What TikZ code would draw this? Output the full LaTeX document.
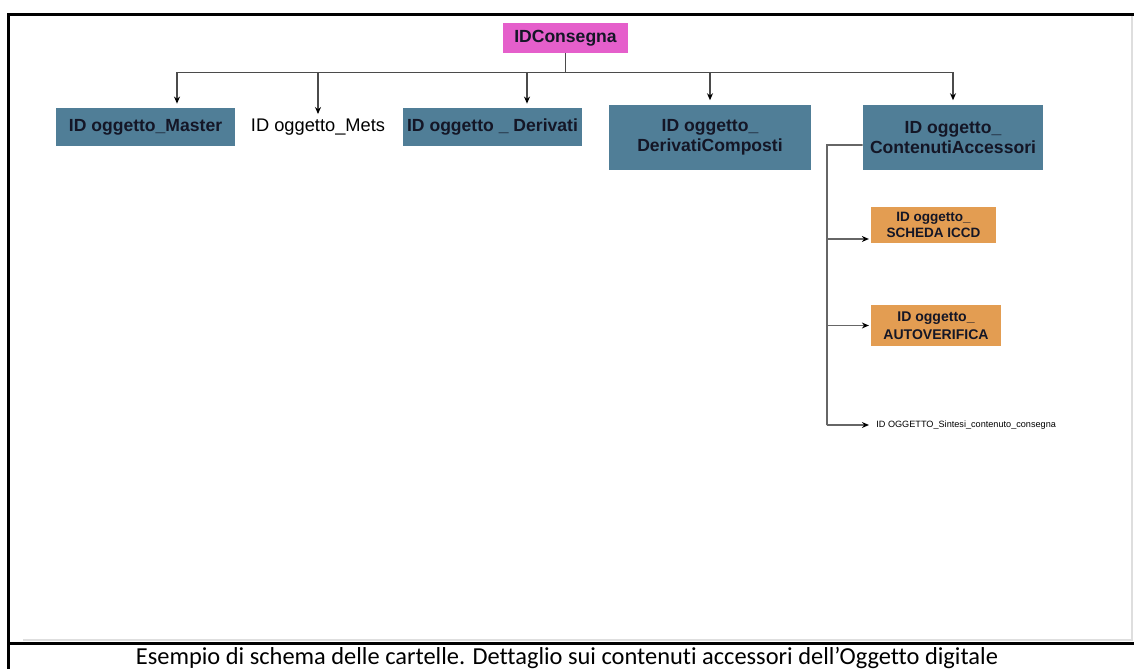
\documentclass[tikz,border=0pt]{standalone}
\usepackage{fontspec}
\setmainfont{Liberation Sans}
\newfontfamily\captionfont[Ligatures=CommonOff]{Carlito}
\usetikzlibrary{arrows.meta}

\definecolor{boxblue}{RGB}{80,126,151}
\definecolor{rootpink}{RGB}{229,95,203}
\definecolor{accorange}{RGB}{227,157,82}
\definecolor{textnavy}{RGB}{20,22,38}
\definecolor{linegray}{RGB}{75,75,75}
\definecolor{framegray}{RGB}{222,222,222}

\tikzset{
  rootbox/.style={fill=rootpink, text=textnavy, inner sep=0pt,
    minimum width=2.5cm, minimum height=0.6cm,
    font=\bfseries\fontsize{10}{12}\selectfont},
  folder/.style={fill=boxblue, text=textnavy, inner sep=0pt, align=center,
    font=\bfseries\fontsize{10}{11.3}\selectfont},
  accbox/.style={fill=accorange, text=textnavy, inner sep=0pt, align=center,
    font=\bfseries\fontsize{7.7}{9.2}\selectfont},
  tip/.style={-{Stealth[length=4pt,width=3.4pt,black]}},
  bus/.style={draw=linegray, line width=0.9pt},
  drop/.style={bus, tip, shorten >=2.5pt},
  branch/.style={draw=linegray!85, line width=0.9pt}
}

\begin{document}
\begin{tikzpicture}[x=0.02cm, y=-0.02cm]

\useasboundingbox (0,0) rectangle (1134,669);

% Draw Frame

\draw[framegray, line width=0.6pt] (23,640) -- (1132,640) -- (1132,16);
\draw[black, line width=1.7pt] (1134,14.5) -- (8.5,14.5) -- (8.5,669);
\draw[black, line width=1.7pt] (8.5,643.5) -- (1134,643.5);

% Draw Root

\node[rootbox] (consegna) at (565.5,38) {IDConsegna};

% Draw First Level Folders

\node[folder, minimum width=3.58cm, minimum height=0.76cm] (master) at (145.5,127) {ID oggetto\_Master};

\node[inner sep=0pt, font=\fontsize{10.4}{12}\selectfont] (mets) at (318,127) {ID oggetto\_Mets};

\node[folder, minimum width=3.58cm, minimum height=0.76cm] (derivati) at (492.5,127) {ID oggetto \_ Derivati};

\node[folder, minimum width=4.04cm, minimum height=1.3cm] (composti) at (710,137.5) {ID oggetto\_\\DerivatiComposti};

\node[folder, minimum width=3.6cm, minimum height=1.3cm] (contenuti) at (953,137.5) {ID oggetto\_\\ContenutiAccessori};

% Draw Bus

\coordinate (busleft) at (177,72.5);
\coordinate (busright) at (953,72.5);

\draw[bus] (consegna.south) -- (consegna.south |- busleft);
\draw[bus] (busleft) -- (busright);

% Draw Arrows to Folders

\draw[drop] (busleft) -- (177,108);
\draw[drop] (mets.north |- busleft) -- (mets.north);
\draw[drop] (527,72.5) -- (527,108);
\draw[drop] (composti.north |- busleft) -- (composti.north);
\draw[drop] (busright) -- (contenuti.north);

% Draw Accessory Contents

\node[accbox, minimum width=2.5cm, minimum height=0.72cm] (scheda) at (933.5,225) {ID oggetto\_\\SCHEDA ICCD};

\node[accbox, minimum width=2.6cm, minimum height=0.82cm, font=\bfseries\fontsize{8}{10}\selectfont] (autoverifica) at (936,325.5) {ID oggetto\_\\AUTOVERIFICA};

\node[anchor=west, inner sep=0pt, font=\fontsize{5.2}{6}\selectfont] (sintesi) at (876,425) {ID OGGETTO\_Sintesi\_contenuto\_consegna};

% Draw Branch

\coordinate (trunk) at (827,145);
\coordinate (trunkend) at (827,425);
\coordinate (schedain) at ([yshift=-0.28cm]scheda.west);

\draw[branch] ([yshift=-0.15cm]contenuti.west) -- (trunk) -- (trunkend);
\draw[branch, tip, shorten >=1pt] (trunk |- schedain) -- (schedain);
\draw[branch, tip, shorten >=1pt] (trunk |- autoverifica.west) -- (autoverifica.west);
\draw[branch, tip, shorten >=4pt] (trunkend) -- (sintesi.west);

% Draw Caption

\node[font=\captionfont\fontsize{13.9}{16}\selectfont] (caption) at (567,658) {Esempio di schema delle cartelle. Dettaglio sui contenuti accessori dell’Oggetto digitale};

\end{tikzpicture}
\end{document}
